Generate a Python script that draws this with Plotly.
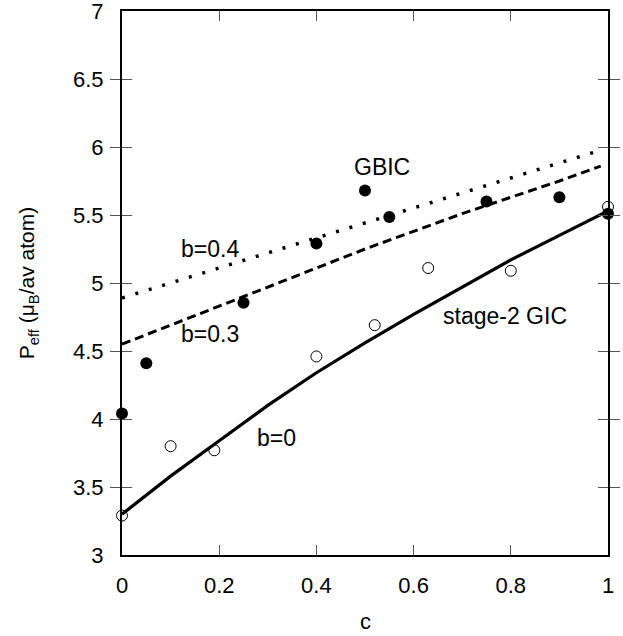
import plotly.graph_objects as go

# ---- data ----
gbic_c = [0.0, 0.05, 0.25, 0.40, 0.50, 0.55, 0.75, 0.90, 1.0]
gbic_p = [4.04, 4.41, 4.855, 5.29, 5.68, 5.485, 5.60, 5.63, 5.51]

gic_c = [0.0, 0.10, 0.19, 0.40, 0.52, 0.63, 0.80, 1.0]
gic_p = [3.29, 3.80, 3.77, 4.46, 4.69, 5.11, 5.09, 5.56]

b0_c = [0.0, 0.1, 0.2, 0.3, 0.4, 0.5, 0.6, 0.7, 0.8, 0.9, 1.0]
b0_p = [3.30, 3.58, 3.84, 4.10, 4.34, 4.56, 4.77, 4.97, 5.17, 5.35, 5.53]

b03_c = [0.0, 0.1, 0.2, 0.3, 0.4, 0.5, 0.6, 0.7, 0.8, 0.9, 0.985]
b03_p = [4.55, 4.69, 4.83, 4.97, 5.11, 5.25, 5.38, 5.51, 5.63, 5.75, 5.86]

b04_c = [0.0, 0.1, 0.2, 0.3, 0.4, 0.5, 0.6, 0.7, 0.8, 0.9, 0.97]
b04_p = [4.89, 5.00, 5.11, 5.22, 5.33, 5.44, 5.55, 5.66, 5.77, 5.88, 5.96]

x_ticks = [0, 0.2, 0.4, 0.6, 0.8, 1]
x_ticklabels = ["0", "0.2", "0.4", "0.6", "0.8", "1"]
y_ticks = [3, 3.5, 4, 4.5, 5, 5.5, 6, 6.5, 7]
y_ticklabels = ["3", "3.5", "4", "4.5", "5", "5.5", "6", "6.5", "7"]

FONT = "Liberation Sans, Arial, Helvetica, sans-serif"

fig = go.Figure()

# empty helper trace so the top (mirror) x axis is drawn
fig.add_trace(go.Scatter(x=[None], y=[None], xaxis="x2", yaxis="y", mode="lines",
                         showlegend=False, hoverinfo="skip"))

fig.add_trace(go.Scatter(x=b04_c, y=b04_p, mode="lines",
                         line=dict(color="black", width=3.5, dash="3px,11px"),
                         showlegend=False, hoverinfo="skip"))
fig.add_trace(go.Scatter(x=b03_c, y=b03_p, mode="lines",
                         line=dict(color="black", width=3, dash="9px,5px"),
                         showlegend=False, hoverinfo="skip"))
fig.add_trace(go.Scatter(x=b0_c, y=b0_p, mode="lines",
                         line=dict(color="black", width=3.2),
                         showlegend=False, hoverinfo="skip"))
fig.add_trace(go.Scatter(x=gic_c, y=gic_p, mode="markers", cliponaxis=False,
                         marker=dict(symbol="circle-open", size=11, color="black",
                                     line=dict(width=1, color="black")),
                         showlegend=False))
fig.add_trace(go.Scatter(x=gbic_c, y=gbic_p, mode="markers", cliponaxis=False,
                         marker=dict(symbol="circle", size=12, color="black"),
                         showlegend=False))

labels = [
    ("GBIC", 0.535, 5.85),
    ("b=0.4", 0.182, 5.25),
    ("b=0.3", 0.182, 4.625),
    ("b=0", 0.318, 3.862),
    ("stage-2 GIC", 0.788, 4.757),
]
for txt, lx, ly in labels:
    fig.add_annotation(x=lx, y=ly, xref="x", yref="y", text=txt, showarrow=False,
                       xanchor="center", yanchor="middle",
                       font=dict(family=FONT, size=23, color="black"))

fig.add_annotation(x=0.5, y=-0.122, xref="paper", yref="paper", text="c",
                   xanchor="center", yanchor="middle",
                   showarrow=False, font=dict(family=FONT, size=22, color="black"))
fig.add_annotation(x=-0.193, y=0.5, xref="paper", yref="paper",
                   text="P<sub>eff</sub> (μ<sub>B</sub>/av atom)", textangle=-90,
                   xanchor="center", yanchor="middle",
                   showarrow=False, font=dict(family=FONT, size=21, color="black"))

axis_common = dict(showgrid=False, zeroline=False, showline=True, linecolor="black",
                   linewidth=2, mirror="allticks", ticks="inside", ticklen=10,
                   tickwidth=1, tickcolor="#555555", ticklabeloverflow="allow",
                   tickfont=dict(family=FONT, size=22, color="black"))

fig.update_layout(
    xaxis=dict(range=[0, 1], tickvals=x_ticks, ticktext=x_ticklabels,
               ticklabelstandoff=10, **axis_common),
    xaxis2=dict(range=[0, 1], tickvals=x_ticks, overlaying="x", side="top",
                anchor="y", showticklabels=False, showgrid=False, zeroline=False,
                showline=True, linecolor="black", linewidth=2, ticks="inside",
                ticklen=10, tickwidth=1, tickcolor="#555555"),
    yaxis=dict(range=[3, 7], tickvals=y_ticks, ticktext=y_ticklabels,
               ticklabelstandoff=12, **axis_common),
)

fig.update_layout(width=623, height=636, plot_bgcolor="white", paper_bgcolor="white",
                  margin=dict(l=122, r=15, t=11, b=81, autoexpand=False),
                  showlegend=False)

fig.write_html("out.html", config={"displayModeBar": False},
               post_script="document.body.style.margin='0px';document.body.style.overflow='hidden';")
